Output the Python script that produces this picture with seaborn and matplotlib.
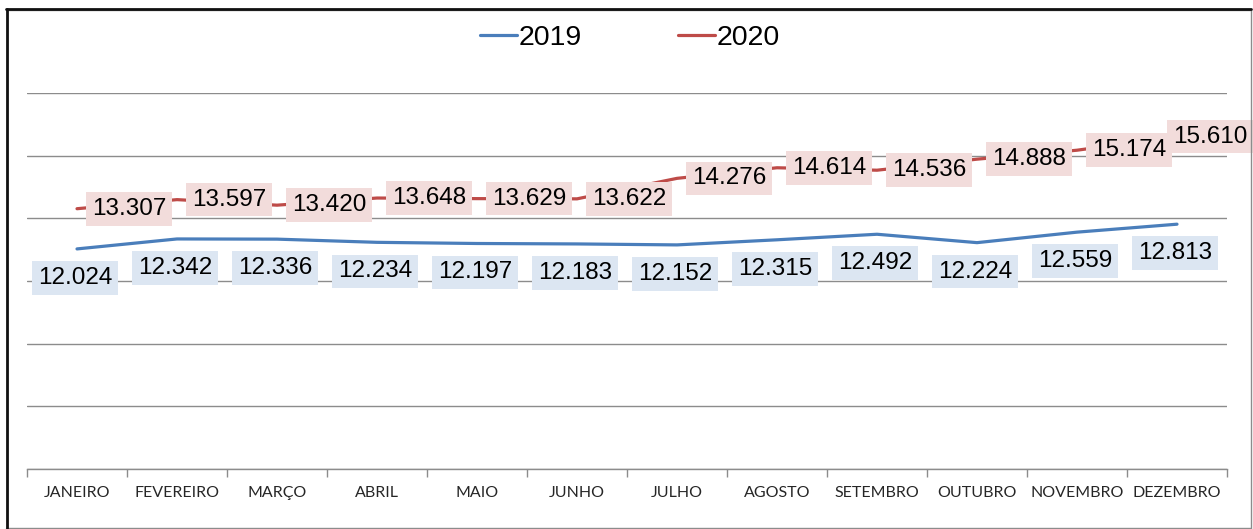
import matplotlib
matplotlib.use("Agg")
import matplotlib.pyplot as plt
import matplotlib.lines as mlines
import numpy as np
import pandas as pd
import seaborn as sns

meses = ["JANEIRO", "FEVEREIRO", "MARÇO", "ABRIL", "MAIO", "JUNHO", "JULHO",
         "AGOSTO", "SETEMBRO", "OUTUBRO", "NOVEMBRO", "DEZEMBRO"]
valores_2019 = [12.024, 12.342, 12.336, 12.234, 12.197, 12.183, 12.152,
                12.315, 12.492, 12.224, 12.559, 12.813]
valores_2020 = [13.307, 13.597, 13.420, 13.648, 13.629, 13.622, 14.276,
                14.614, 14.536, 14.888, 15.174, 15.610]

cor_2019 = "#4A7EBB"
cor_2020 = "#BE4B48"
caixa_2019 = "#DCE6F2"
caixa_2020 = "#F2DCDB"
num_font = ["Liberation Sans", "DejaVu Sans"]

df = pd.DataFrame({
    "mes": meses * 2,
    "pos": list(range(len(meses))) * 2,
    "valor": valores_2019 + valores_2020,
    "ano": ["2019"] * len(meses) + ["2020"] * len(meses),
})

sns.set_style("white")
fig = plt.figure(figsize=(12.53, 5.29), dpi=100)
ax = fig.add_axes([27 / 1253, 60 / 529, 1200 / 1253, 376 / 529])

sns.lineplot(data=df, x="pos", y="valor", hue="ano",
             palette={"2019": cor_2019, "2020": cor_2020},
             linewidth=2.3, ax=ax, legend=False)

ax.set_xlim(-0.5, len(meses) - 0.5)
ax.set_ylim(5, 17)
ax.set_yticks(np.arange(5, 18, 2))
ax.set_yticklabels([])
ax.tick_params(axis="y", length=0)
ax.grid(axis="y", color="#8c8c8c", linewidth=1)
ax.set_axisbelow(True)
for s in ["left", "right", "top"]:
    ax.spines[s].set_visible(False)
ax.spines["bottom"].set_color("#8c8c8c")
ax.spines["bottom"].set_linewidth(1)

ax.set_xticks(range(len(meses)))
ax.set_xticklabels(meses, fontsize=11.5, family=["Lato", "DejaVu Sans"], color="#262626")
ax.set_xticks(np.arange(-0.5, len(meses), 1), minor=True)
ax.tick_params(axis="x", which="major", length=0, pad=12.5)
ax.tick_params(axis="x", which="minor", bottom=True, length=6, color="#8c8c8c",
               width=1, direction="out")
ax.set_xlabel("")
ax.set_ylabel("")

# rótulos de dados
for i, v in enumerate(valores_2019):
    ax.annotate(f"{v:.3f}", (i, v), xytext=(-2, -29), textcoords="offset pixels",
                ha="center", va="center", fontsize=17.5, family=num_font, color="black",
                bbox=dict(boxstyle="square,pad=0.24", fc=caixa_2019, ec="none"),
                annotation_clip=False, zorder=5)
for i, v in enumerate(valores_2020):
    dx = 15 if i < len(valores_2020) - 1 else -4
    ax.annotate(f"{v:.3f}", (i, v), xytext=(dx, 0), textcoords="offset pixels",
                ha="left", va="center", fontsize=17.5, family=num_font, color="black",
                bbox=dict(boxstyle="square,pad=0.24", fc=caixa_2020, ec="none"),
                annotation_clip=False, zorder=5)

# legenda
h1 = mlines.Line2D([], [], color=cor_2019, linewidth=2.3)
h2 = mlines.Line2D([], [], color=cor_2020, linewidth=2.3)
leg = fig.legend([h1, h2], ["2019", "2020"], loc="center",
                 bbox_to_anchor=(630 / 1253, 1 - 38 / 529),
                 ncol=2, frameon=False, handlelength=1.3, handletextpad=0.05,
                 columnspacing=3.4, prop={"family": num_font, "size": 20.5})
for t in leg.get_texts():
    t.set_color("black")

# moldura
fig.add_artist(plt.Line2D([6 / 1253, 1251 / 1253], [1 - 10 / 529] * 2, transform=fig.transFigure,
                          color="#8c8c8c", linewidth=1))
fig.add_artist(plt.Line2D([1251 / 1253] * 2, [1 - 10 / 529, 1 / 529], transform=fig.transFigure,
                          color="#8c8c8c", linewidth=1))
fig.add_artist(plt.Line2D([6 / 1253, 1251 / 1253], [1 / 529] * 2, transform=fig.transFigure,
                          color="#8c8c8c", linewidth=1))
fig.add_artist(plt.Line2D([7 / 1253] * 2, [1 - 9 / 529, 1 / 529], transform=fig.transFigure,
                          color="#111111", linewidth=2))
fig.add_artist(plt.Line2D([6 / 1253, 1251 / 1253], [1 - 9 / 529] * 2, transform=fig.transFigure,
                          color="#111111", linewidth=2))

fig.savefig("out.png", dpi=100)
